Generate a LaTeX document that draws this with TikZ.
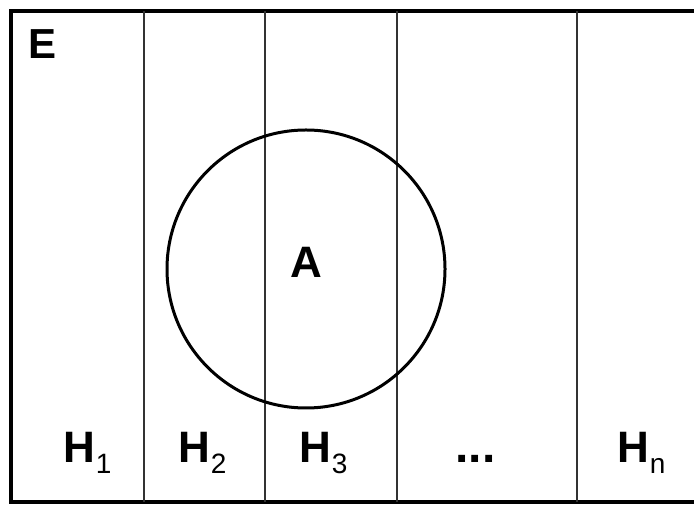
\documentclass[tikz,border=0pt]{standalone}
\usepackage{fontspec}
\setmainfont{Liberation Sans}
\usetikzlibrary{positioning}

\begin{document}
\begin{tikzpicture}[
    x=0.5pt, y=-0.5pt,
    lbl/.style={font=\fontsize{22}{24}\selectfont\bfseries, inner sep=0pt, anchor=base west},
    sub/.style={font=\fontsize{14}{16}\selectfont, inner sep=0pt, anchor=base west}
  ]
  \useasboundingbox[fill=white] (0,0) rectangle (694,506);
  % -- sample space --
  \draw[line width=1.75pt] (11,11) rectangle (696,502);
  \node[font=\fontsize{21}{23}\selectfont\bfseries, inner sep=0pt, anchor=base west] (E) at (28,59) {E};
  % -- partition --
  \foreach \x in {144,265,397,577}{ \draw[line width=0.65pt, black!80] (\x,11) -- (\x,502); }
  % -- event A --
  \draw[line width=1.5pt] (306,269) circle[radius=139];
  \node[lbl, anchor=center] (A) at (306,262) {A};
  % -- labels --
  \node[lbl] (h1) at (63,462) {H};
  \node[sub, right=0pt of h1.base east, anchor=base west, yshift=-5.5pt] (s1) {1};
  \node[lbl] (h2) at (178,462) {H};
  \node[sub, right=0pt of h2.base east, anchor=base west, yshift=-5.5pt] (s2) {2};
  \node[lbl] (h3) at (299,462) {H};
  \node[sub, right=0pt of h3.base east, anchor=base west, yshift=-5.5pt] (s3) {3};
  \node[lbl, font=\fontsize{24}{26}\selectfont\bfseries] (dots) at (455,462) {...};
  \node[lbl] (hn) at (617,462) {H};
  \node[sub, right=0pt of hn.base east, anchor=base west, yshift=-5.5pt] (sn) {n};
\end{tikzpicture}
\end{document}
